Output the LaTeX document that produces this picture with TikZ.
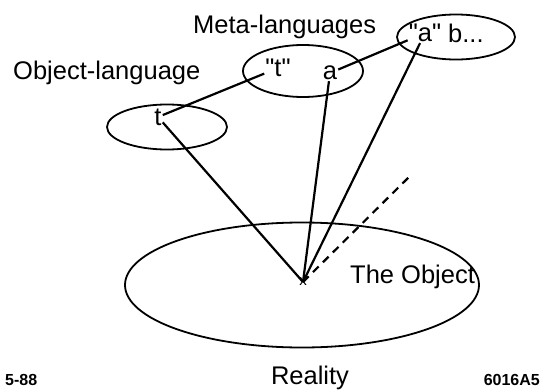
\documentclass[tikz,border=0pt]{standalone}
\usepackage{fontspec}
\setmainfont{Liberation Sans}[Ligatures=TeXOff]
\usetikzlibrary{shapes.geometric}

\begin{document}
\begin{tikzpicture}[x=1pt, y=-1pt,
    lang/.style={ellipse, draw, line width=1.8pt, inner sep=0pt},
    word/.style={inner sep=1pt, font=\fontsize{25.5}{27}\selectfont},
    stamp/.style={inner sep=0pt, font=\bfseries\fontsize{16}{16}\selectfont},
    link/.style={line width=2.2pt}]
    \useasboundingbox (0,0) rectangle (547,391);

    % ellipses
    \node[lang, minimum width=120pt, minimum height=45pt] (objlang) at (167,127) {};
    \node[lang, minimum width=120pt, minimum height=52pt] (metalang) at (303,71) {};
    \node[lang, minimum width=118pt, minimum height=45pt] (metameta) at (456,37) {};
    \node[lang, minimum width=354pt, minimum height=125pt] (reality) at (302,285) {};

    % words
    \node[word] (t) at (158,117) {t};
    \node[word] (qt) at (278,68) {"t"};
    \node[word] (a) at (330,73) {a};
    \node[word] (qa) at (425,33) {"a"};
    \node[word, anchor=west] (b) at (447,33) {b...};
    \node[inner sep=0pt, font=\fontsize{15}{15}\selectfont] (x) at (303,282) {x};
    \coordinate (dashend) at (410,176);

    % labels
    \node[word, anchor=west] (objlabel) at (12,73) {Object-language};
    \node[word, anchor=west] (metalabel) at (192,27) {Meta-languages};
    \node[word, anchor=west] (thing) at (349,277) {The Object};
    \node[word] (realitylabel) at (310,378) {Reality};
    \node[stamp, anchor=west] (date) at (5,380) {5-88};
    \node[stamp, anchor=east] (fig) at (540,380) {6016A5};

    % connectors
    \draw[link] (t) -- (qt);
    \draw[link] (a) -- (qa);
    \draw[link] (t) -- (x.center);
    \draw[link] (a) -- (x.center);
    \draw[link] (qa) -- (x.center);
    \draw[link, dash pattern=on 8pt off 6pt] (x.center) -- (dashend);
\end{tikzpicture}
\end{document}
